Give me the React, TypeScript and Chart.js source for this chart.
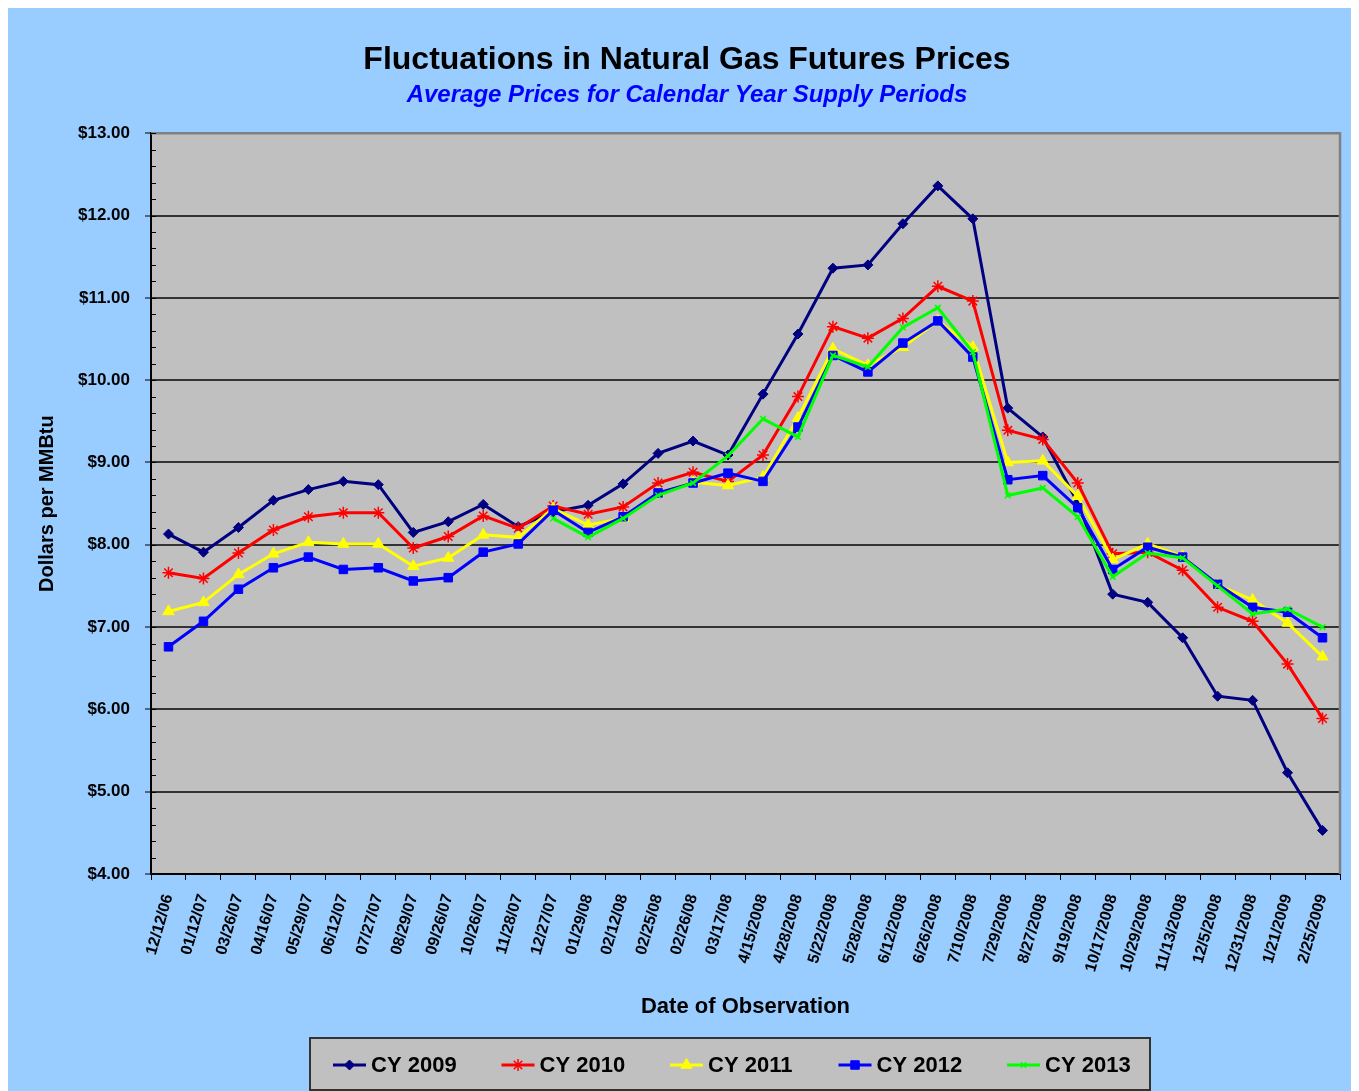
import React, { useEffect, useRef } from 'react';
import { Chart, registerables } from 'chart.js';
import { drawPoint } from 'chart.js/helpers';

Chart.register(...registerables);

const categories = [
  '12/12/06', '01/12/07', '03/26/07', '04/16/07', '05/29/07', '06/12/07', '07/27/07', '08/29/07',
  '09/26/07', '10/26/07', '11/28/07', '12/27/07', '01/29/08', '02/12/08', '02/25/08', '02/26/08',
  '03/17/08', '4/15/2008', '4/28/2008', '5/22/2008', '5/28/2008', '6/12/2008', '6/26/2008', '7/10/2008',
  '7/29/2008', '8/27/2008', '9/19/2008', '10/17/2008', '10/29/2008', '11/13/2008', '12/5/2008',
  '12/31/2008', '1/21/2009', '2/25/2009',
];

const cy2009 = [8.13, 7.91, 8.21, 8.54, 8.67, 8.77, 8.73, 8.15, 8.28, 8.49, 8.22, 8.40, 8.48, 8.74, 9.11, 9.26, 9.09, 9.83, 10.56, 11.36, 11.40, 11.90, 12.36, 11.96, 9.66, 9.31, 8.51, 7.40, 7.30, 6.87, 6.16, 6.11, 5.23, 4.53];
const cy2010 = [7.66, 7.59, 7.90, 8.18, 8.34, 8.39, 8.39, 7.96, 8.10, 8.35, 8.20, 8.47, 8.37, 8.46, 8.75, 8.88, 8.77, 9.09, 9.80, 10.65, 10.51, 10.75, 11.14, 10.96, 9.39, 9.28, 8.75, 7.89, 7.91, 7.69, 7.24, 7.07, 6.55, 5.89];
const cy2011 = [7.19, 7.30, 7.64, 7.89, 8.03, 8.01, 8.01, 7.74, 7.84, 8.12, 8.09, 8.44, 8.24, 8.32, 8.63, 8.76, 8.72, 8.82, 9.54, 10.38, 10.18, 10.40, 10.72, 10.40, 9.00, 9.02, 8.59, 7.82, 8.01, 7.86, 7.51, 7.33, 7.05, 6.64];
const cy2012 = [6.76, 7.07, 7.46, 7.72, 7.85, 7.70, 7.72, 7.56, 7.60, 7.91, 8.01, 8.42, 8.15, 8.34, 8.63, 8.75, 8.87, 8.77, 9.43, 10.30, 10.10, 10.45, 10.72, 10.28, 8.79, 8.84, 8.45, 7.70, 7.97, 7.85, 7.52, 7.24, 7.18, 6.87];
const cy2013 = [null, null, null, null, null, null, null, null, null, null, null, 8.32, 8.09, 8.32, 8.60, 8.75, 9.08, 9.53, 9.31, 10.30, 10.16, 10.64, 10.88, 10.34, 8.60, 8.69, 8.34, 7.61, 7.90, 7.84, 7.50, 7.16, 7.22, 7.00];

const seriesLabels = ['CY 2009', 'CY 2010', 'CY 2011', 'CY 2012', 'CY 2013'];
const seriesValues = [cy2009, cy2010, cy2011, cy2012, cy2013];
const seriesColors = ['#000080', '#FF0000', '#FFFF00', '#0000FF', '#00FF00'];
const seriesPointStyles = ['rectRot', 'star', 'triangle', 'rect', 'crossRot'];
const seriesPointRadius = [5, 6, 6.5, 6, 4];

const yMin = 4;
const yMax = 13;

const titleText = 'Fluctuations in Natural Gas Futures Prices';
const subtitleText = 'Average Prices for Calendar Year Supply Periods';
const xTitle = 'Date of Observation';
const yTitle = 'Dollars per MMBtu';

const FONT = "'Liberation Sans', Arial, Helvetica, sans-serif";

const decorPlugin = {
  id: 'decor',
  beforeDraw(chart: any) {
    const { ctx, chartArea: a, width, height } = chart;
    ctx.save();
    ctx.fillStyle = '#99CCFF';
    ctx.fillRect(0, 0, width, height);
    ctx.fillStyle = '#C0C0C0';
    ctx.fillRect(a.left, a.top, a.right - a.left, a.bottom - a.top);
    ctx.restore();
  },
  afterDraw(chart: any) {
    const { ctx, chartArea: a } = chart;
    const ys = chart.scales.y;
    ctx.save();
    // top/right plot border
    ctx.strokeStyle = '#808080';
    ctx.lineWidth = 2.5;
    ctx.beginPath();
    ctx.moveTo(a.left, a.top);
    ctx.lineTo(a.right, a.top);
    ctx.lineTo(a.right, a.bottom);
    ctx.stroke();
    // minor inner ticks on the value axis
    ctx.strokeStyle = '#000000';
    ctx.lineWidth = 1;
    for (let k = 0; k <= (yMax - yMin) * 5; k++) {
      const v = yMin + k * 0.2;
      const py = Math.round(ys.getPixelForValue(v)) + 0.5;
      ctx.beginPath();
      ctx.moveTo(a.left, py);
      ctx.lineTo(a.left + 5, py);
      ctx.stroke();
    }
    // legend box
    const boxL = 302, boxT = 1030, boxW = 840, boxH = 52;
    ctx.fillStyle = '#C0C0C0';
    ctx.fillRect(boxL, boxT, boxW, boxH);
    ctx.strokeStyle = '#333333';
    ctx.lineWidth = 2;
    ctx.strokeRect(boxL, boxT, boxW, boxH);
    const cy = boxT + 27;
    chart.data.datasets.forEach((ds: any, i: number) => {
      const x0 = 325 + i * 168.5;
      ctx.strokeStyle = ds.borderColor;
      ctx.lineWidth = 3;
      ctx.beginPath();
      ctx.moveTo(x0, cy);
      ctx.lineTo(x0 + 33, cy);
      ctx.stroke();
      ctx.fillStyle = ds.backgroundColor;
      ctx.strokeStyle = ds.borderColor;
      ctx.lineWidth = ds.pointBorderWidth;
      drawPoint(ctx, { pointStyle: ds.pointStyle, radius: ds.pointRadius, rotation: 0, borderWidth: ds.pointBorderWidth }, x0 + 16.5, cy);
      ctx.fillStyle = '#000000';
      ctx.font = `bold 22px ${FONT}`;
      ctx.textAlign = 'left';
      ctx.textBaseline = 'middle';
      ctx.fillText(ds.label, x0 + 38, cy + 1);
    });
    ctx.restore();
  },
};

export default function App() {
  const ref = useRef<HTMLCanvasElement | null>(null);

  useEffect(() => {
    document.documentElement.style.overflow = 'hidden';
    const canvas = ref.current;
    if (!canvas) return;
    const datasets = seriesLabels.map((label, i) => ({
      label,
      data: seriesValues[i],
      borderColor: seriesColors[i],
      backgroundColor: seriesColors[i],
      pointBackgroundColor: seriesColors[i],
      pointBorderColor: seriesColors[i],
      pointStyle: seriesPointStyles[i],
      pointRadius: seriesPointRadius[i],
      pointBorderWidth: seriesPointStyles[i] === 'star' || seriesPointStyles[i] === 'crossRot' ? 1.5 : 1,
      borderWidth: 3,
      tension: 0,
      spanGaps: false,
      order: 5 - i,
    }));

    const chart = new Chart(canvas, {
      type: 'line',
      data: { labels: categories, datasets },
      plugins: [decorPlugin],
      options: {
        responsive: false,
        animation: false,
        layout: { padding: { left: 26, right: 19, top: 0, bottom: 67 } },
        plugins: {
          legend: { display: false },
          tooltip: { enabled: false },
          title: {
            display: true,
            text: titleText,
            color: '#000000',
            font: { family: FONT, size: 32, weight: 'bold', lineHeight: 1.2 },
            padding: { top: 33, bottom: 0 },
          },
          subtitle: {
            display: true,
            text: subtitleText,
            color: '#0000FF',
            font: { family: FONT, size: 24, weight: 'bold', style: 'italic', lineHeight: 1.2 },
            padding: { top: 2, bottom: 23 },
          },
        },
        scales: {
          x: {
            type: 'category',
            offset: true,
            afterFit: (s: any) => { s.height = 150; },
            grid: {
              offset: true,
              drawOnChartArea: false,
              drawTicks: true,
              tickLength: 6,
              tickColor: '#000000',
              tickWidth: 1,
            },
            border: { display: true, color: '#000000', width: 2 },
            ticks: {
              autoSkip: false,
              minRotation: 74,
              maxRotation: 74,
              padding: 12,
              color: '#000000',
              font: { family: FONT, size: 16, weight: 'bold' },
            },
            title: {
              display: true,
              text: xTitle,
              color: '#000000',
              font: { family: FONT, size: 22, weight: 'bold', lineHeight: 1.2 },
              padding: { top: 0, bottom: 4 },
            },
          },
          y: {
            min: yMin,
            max: yMax,
            afterFit: (s: any) => { s.width = 117; },
            grid: {
              color: '#333333',
              lineWidth: 2,
              tickLength: 6,
              tickColor: '#000000',
              tickWidth: 1,
            },
            border: { display: true, color: '#000000', width: 2 },
            ticks: {
              stepSize: 1,
              padding: 15,
              color: '#000000',
              font: { family: FONT, size: 17, weight: 'bold' },
              callback: (v: any) => '$' + Number(v).toFixed(2),
            },
            title: {
              display: true,
              text: yTitle,
              color: '#000000',
              font: { family: FONT, size: 20, weight: 'bold', lineHeight: 1.2 },
              padding: { top: 1, bottom: 0 },
            },
          },
        },
      } as any,
    });
    return () => chart.destroy();
  }, []);

  return (
    <div style={{ width: 1351, height: 1083 }}>
      <canvas ref={ref} width={1351} height={1083} style={{ display: 'block' }} />
    </div>
  );
}
